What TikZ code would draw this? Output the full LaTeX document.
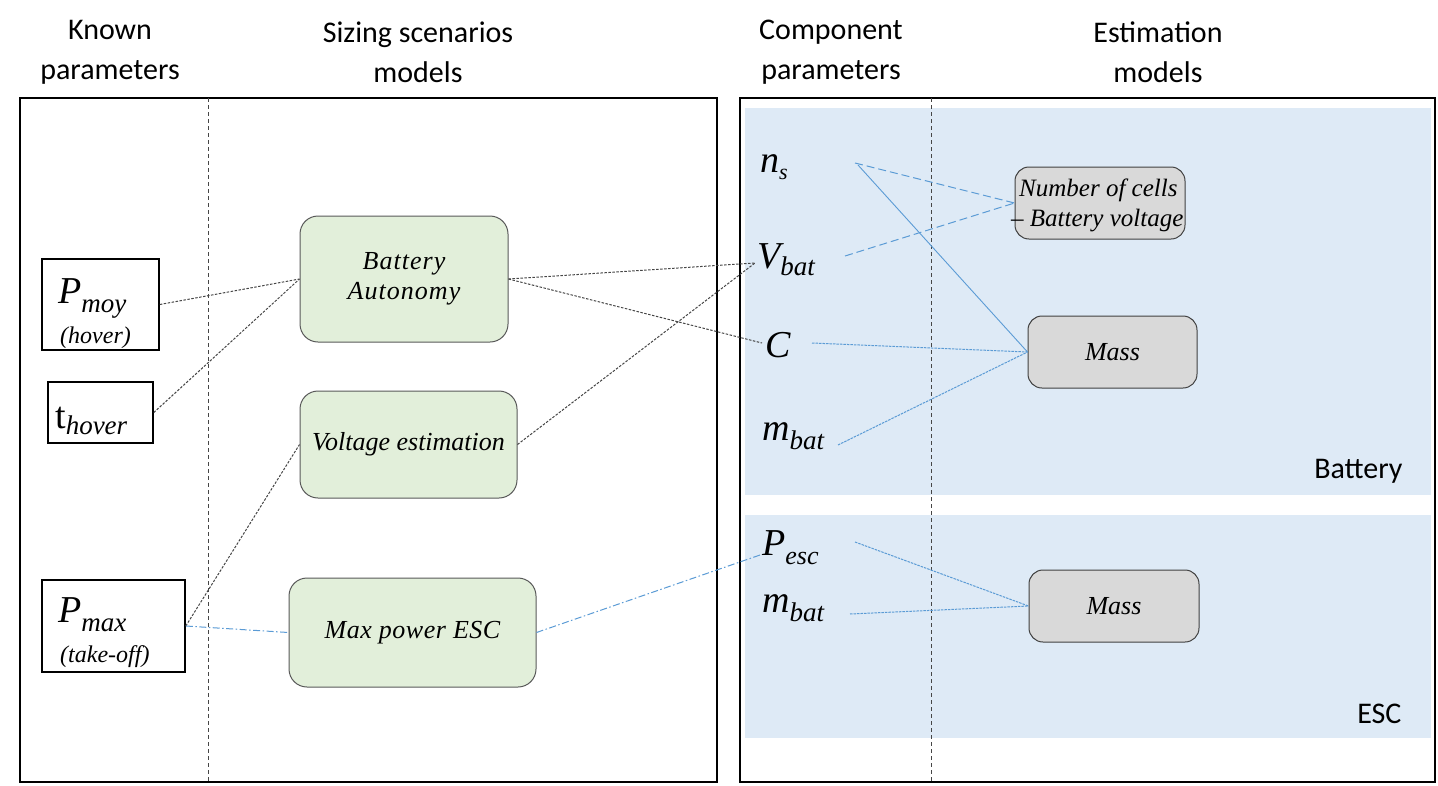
\documentclass[tikz,border=0pt]{standalone}
\usepackage{fontspec}
\setmainfont{Liberation Serif}
\newfontfamily\hdfont{Carlito}
\newfontfamily\bxfont{Liberation Serif}[Ligatures=TeX]
\newfontfamily\bxspaced{Liberation Serif}[LetterSpace=4]
\newcommand\fs[1]{\fontsize{#1}{#1}\selectfont}
\newcommand\subt[3]{\raisebox{-#2}{\fs{#1}\itshape #3}}
\definecolor{gfill}{RGB}{226,239,218}
\definecolor{bfill}{RGB}{222,234,246}
\definecolor{grfill}{RGB}{217,217,217}
\definecolor{bline}{RGB}{91,155,213}
\definecolor{dline}{RGB}{70,70,70}
\tikzset{
  frame/.style={draw=black,line width=1.6pt},
  sep/.style={draw=dline,line width=1pt,dash pattern=on 4pt off 3pt},
  kbox/.style={draw=black,line width=1.6pt,rectangle,inner sep=0pt},
  gbox/.style={draw=black!65,line width=1pt,fill=gfill,rounded corners=18pt,inner sep=0pt,align=center,font=\bxfont\itshape\fontsize{26}{30}\selectfont},
  grbox/.style={draw=black!75,line width=1pt,fill=grfill,rounded corners=14pt,inner sep=0pt,align=center,font=\bxfont\itshape\fs{26}},
  lbl/.style={inner sep=0pt,font=\fs{38}\itshape},
  hd/.style={align=center,font=\hdfont\fontsize{30}{40}\selectfont},
  blk/.style={draw=dline,line width=1pt,dash pattern=on 2.5pt off 1.5pt},
  bdd/.style={draw=bline,line width=1pt,dash pattern=on 7pt off 2.5pt on 1.5pt off 2.5pt},
  bds/.style={draw=bline,line width=1pt,dash pattern=on 8pt off 4pt},
  bdt/.style={draw=bline,line width=1pt,dash pattern=on 2.5pt off 1pt},
  bsl/.style={draw=bline,line width=0.9pt},
}
\begin{document}
\begin{tikzpicture}[x=1pt,y=-1pt]
\useasboundingbox (0,0) rectangle (1438,785);
% headers
\node[hd] (h1) at (110,52) {Known\\parameters};
\node[hd] (h2) at (418,52) {Sizing scenarios\\models};
\node[hd] (h3) at (831,52) {Component\\parameters};
\node[hd] (h4) at (1158,52) {Estimation\\models};
% frames
\draw[frame] (20,98) rectangle (717,782);
\fill[bfill] (745,108) rectangle (1431,495);
\fill[bfill] (745,515) rectangle (1431,738);
\draw[frame] (740,98) rectangle (1435,782);
\draw[sep] (208,98) -- (208,782);
\draw[sep] (931,98) -- (931,782);
\node[font=\hdfont\fs{30},anchor=base east] (lbat) at (1406,478) {Battery};
\node[font=\hdfont\fs{30},anchor=base east] (lesc) at (1405,723) {ESC};
% known parameter boxes
\node[kbox,minimum width=117pt,minimum height=91pt] (pmoy) at (100.5,304.5) {};
\node[kbox,minimum width=105pt,minimum height=61pt] (thov) at (100.5,412.5) {};
\node[kbox,minimum width=143pt,minimum height=92pt] (pmax) at (113.5,626) {};
\node[lbl,anchor=base west] (pmoyt) at (58,303) {P\subt{27}{9pt}{moy}};
\node[inner sep=0pt,anchor=base west,font=\fs{24}\itshape] (pmoyh) at (60,343) {(hover)};
\node[inner sep=0pt,anchor=base west] (thovt) at (55,428) {\fs{38}t\subt{27}{6pt}{hover}};
\node[lbl,anchor=base west] (pmaxt) at (58,622) {P\subt{27}{9pt}{max}};
\node[inner sep=0pt,anchor=base west,font=\fs{24}\itshape] (pmaxh) at (60,662) {(take-off)};
% scenario boxes
\node[gbox,minimum width=208pt,minimum height=126pt] (ba) at (404,279) {\bxspaced\itshape Battery\\\bxspaced\itshape Autonomy};
\node[gbox,minimum width=217pt,minimum height=107pt] (ve) at (408.5,444.5) {Voltage estimation};
\node[gbox,minimum width=247pt,minimum height=109pt] (mp) at (412.5,632.5) {\addfontfeatures{LetterSpace=2}Max power ESC};
% component parameters
\node[lbl,anchor=base west] (ns) at (760,172) {n\subt{22}{7pt}{s}};
\node[lbl,anchor=base west] (vbat) at (757,268) {V\subt{27}{7pt}{bat}};
\node[lbl,anchor=base west] (cc) at (765,357) {C};
\node[lbl,anchor=base west] (mbat) at (762,440) {m\subt{27}{9pt}{bat}};
\node[lbl,anchor=base west] (pesc) at (762,555) {P\subt{26}{9pt}{esc}};
\node[lbl,anchor=base west] (mbat2) at (762,612) {m\subt{27}{9pt}{bat}};
\coordinate (nsA) at (855,163);
\coordinate (nsB) at (858,165);
\coordinate (vbA) at (845,256);
\coordinate (cA) at (812,343);
\coordinate (mbA) at (838,445);
\coordinate (peA) at (855,542);
\coordinate (mb2A) at (850,614);
\coordinate (vbIn) at (755,263);
\coordinate (cIn) at (762,343);
\coordinate (peIn) at (760,555);
% estimation models
\node[grbox,minimum width=170pt,minimum height=72pt] (nc) at (1100,203) {};
\node[inner sep=0pt,anchor=base west,font=\bxfont\itshape\fs{25}] (nct1) at (1019,196) {Number of cells};
\node[inner sep=0pt,anchor=base west,font=\bxfont\itshape\fs{25}] (nct2) at (1011,226) {– Battery voltage};
\node[grbox,minimum width=169pt,minimum height=72pt] (m1) at (1112.5,352) {Mass};
\node[grbox,minimum width=170pt,minimum height=72pt] (m2) at (1114,606) {Mass};
% connectors left
\draw[blk] (pmoy.east) -- (ba.west);
\draw[blk] (thov.east) -- (ba.west);
\draw[blk] (ba.east) -- (vbIn);
\draw[blk] (ba.east) -- (cIn);
\draw[blk] (ve.east) -- (vbIn);
\draw[blk] (pmax.east) -- (ve.west);
\draw[bdd] (pmax.east) -- (mp.west);
\draw[bdd] (mp.east) -- (peIn);
% connectors right
\draw[bds] (nsA) -- (nc.west);
\draw[bds] (vbA) -- (nc.west);
\draw[bsl] (nsB) -- (m1.west);
\draw[bdt] (cA) -- (m1.west);
\draw[bdt] (mbA) -- (m1.west);
\draw[bdt] (peA) -- (m2.west);
\draw[bdt] (mb2A) -- (m2.west);
\end{tikzpicture}
\end{document}
